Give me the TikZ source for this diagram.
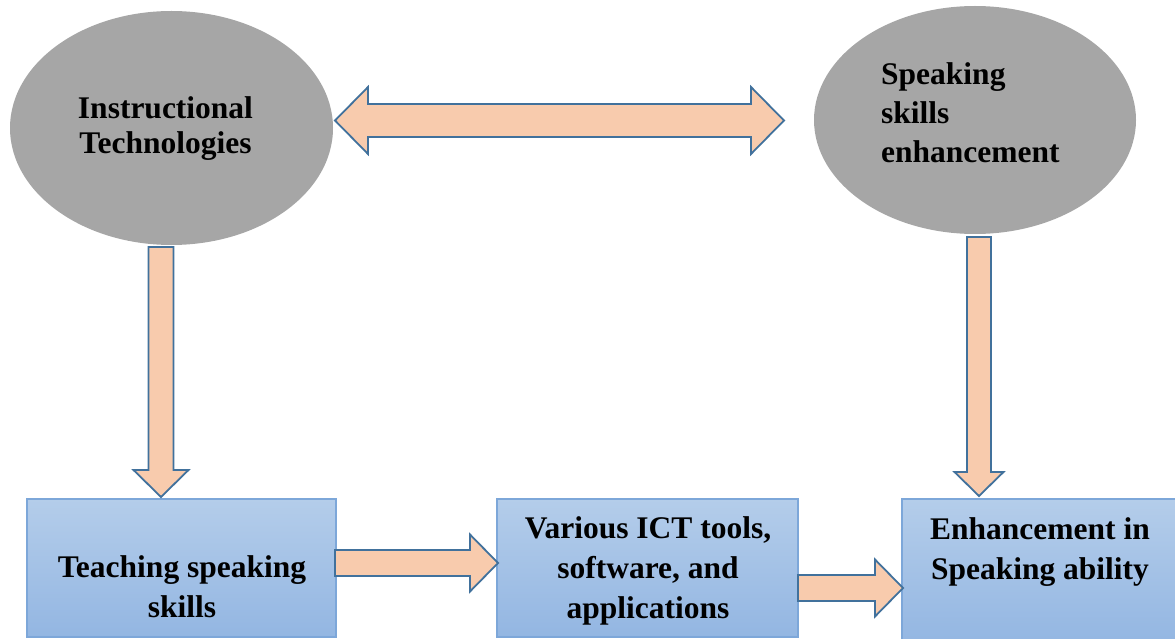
\documentclass[tikz,border=0pt]{standalone}
\usepackage{fontspec}
\setmainfont{Liberation Serif}
\usetikzlibrary{shapes.geometric,calc}
\definecolor{ellgray}{HTML}{A6A6A6}
\definecolor{arrowfill}{HTML}{F8CBAD}
\definecolor{arrowline}{HTML}{41719C}
\definecolor{boxline}{HTML}{7DA7D9}
\definecolor{boxtop}{HTML}{B4CDEA}
\definecolor{boxbottom}{HTML}{93B6E2}

% Block arrow pointing right: #1 tail, #2 tip, #3 shaft half width, #4 head half width, #5 head length
\newcommand\blockarrowright[5]{%
  \draw[blockarrow] let \p1=(#1), \p2=(#2) in
    (\x1,\y2+#3) -- (\x2-#5,\y2+#3) -- (\x2-#5,\y2+#4) -- (\x2,\y2)
    -- (\x2-#5,\y2-#4) -- (\x2-#5,\y2-#3) -- (\x1,\y2-#3) -- cycle;}
% Block arrow pointing down: same arguments
\newcommand\blockarrowdown[5]{%
  \draw[blockarrow] let \p1=(#1), \p2=(#2) in
    (\x2-#3,\y1) -- (\x2-#3,\y2+#5) -- (\x2-#4,\y2+#5) -- (\x2,\y2)
    -- (\x2+#4,\y2+#5) -- (\x2+#3,\y2+#5) -- (\x2+#3,\y1) -- cycle;}
% Double-headed horizontal block arrow: #1 left tip, #2 right tip
\newcommand\blockarrowboth[5]{%
  \draw[blockarrow] let \p1=(#1), \p2=(#2) in
    (\x1,\y1) -- (\x1+#5,\y1+#4) -- (\x1+#5,\y1+#3) -- (\x2-#5,\y1+#3)
    -- (\x2-#5,\y1+#4) -- (\x2,\y1) -- (\x2-#5,\y1-#4) -- (\x2-#5,\y1-#3)
    -- (\x1+#5,\y1-#3) -- (\x1+#5,\y1-#4) -- cycle;}

\begin{document}
\begin{tikzpicture}[x=1pt,y=-1pt,
  oval/.style={ellipse, fill=ellgray, inner sep=0pt, outer sep=0pt},
  box/.style={rectangle, draw=boxline, line width=1.4pt, top color=boxtop,
    bottom color=boxbottom, inner sep=0pt, outer sep=0pt},
  blockarrow/.style={draw=arrowline, fill=arrowfill, line width=1.8pt, line join=miter},
  label/.style={font=\bfseries\fontsize{31.5}{40}\selectfont, inner sep=0pt, align=center}]

\useasboundingbox (0,0) rectangle (1175,639);

% ovals
\node[oval, minimum width=323, minimum height=234] (it) at (171.5,128) {};
\node[oval, minimum width=322, minimum height=228] (sk) at (975,120) {};

% boxes
\node[box, minimum width=309, minimum height=138] (box1) at (181.5,568) {};
\node[box, minimum width=301, minimum height=138] (box2) at (647.5,568) {};
\node[box, minimum width=283, minimum height=146] (box3) at (1043.5,572) {};

% texts (base anchor sits on the last line)
\node[label, font=\bfseries\fontsize{31.5}{35}\selectfont, anchor=base]
  (it-text) at ($(it.center)+(-6,26)$) {Instructional\\Technologies};
\node[label, font=\bfseries\fontsize{31.5}{39}\selectfont, align=left, anchor=base west]
  (sk-text) at ($(sk.center)+(-94,43)$) {Speaking\\skills\\enhancement};
\node[label, anchor=base] (box1-text) at ($(box1.north)+(0.5,118)$) {Teaching speaking\\skills};
\node[label, anchor=base] (box2-text) at ($(box2.north)+(0.5,119)$) {Various ICT tools,\\software, and\\applications};
\node[label, anchor=base] (box3-text) at ($(box3.north)+(-3.5,80)$) {Enhancement in\\Speaking ability};

% arrow end points
\coordinate (top-l) at ($(it.east)+(2,-7.5)$);
\coordinate (top-r) at ($(sk.west)+(-30,0.5)$);
\coordinate (left-s) at ($(it.south)+(-10.5,2)$);
\coordinate (left-e) at ($(box1.north)+(-20.5,-2)$);
\coordinate (right-s) at ($(sk.south)+(4,3)$);
\coordinate (right-e) at ($(box3.north)+(-64.5,-3)$);
\coordinate (mid1-s) at ($(box1.east)+(-1,-4)$);
\coordinate (mid1-e) at ($(box2.west)+(1,-5)$);
\coordinate (mid2-s) at ($(box2.east)+(0,21)$);
\coordinate (mid2-e) at ($(box3.west)+(1,16)$);

% arrows
\blockarrowboth{top-l}{top-r}{16.5pt}{33.5pt}{33pt}
\blockarrowdown{left-s}{left-e}{12.5pt}{27.5pt}{27pt}
\blockarrowdown{right-s}{right-e}{12pt}{24.5pt}{24pt}
\blockarrowright{mid1-s}{mid1-e}{13pt}{28.5pt}{28pt}
\blockarrowright{mid2-s}{mid2-e}{13pt}{28.5pt}{28pt}
\end{tikzpicture}
\end{document}
